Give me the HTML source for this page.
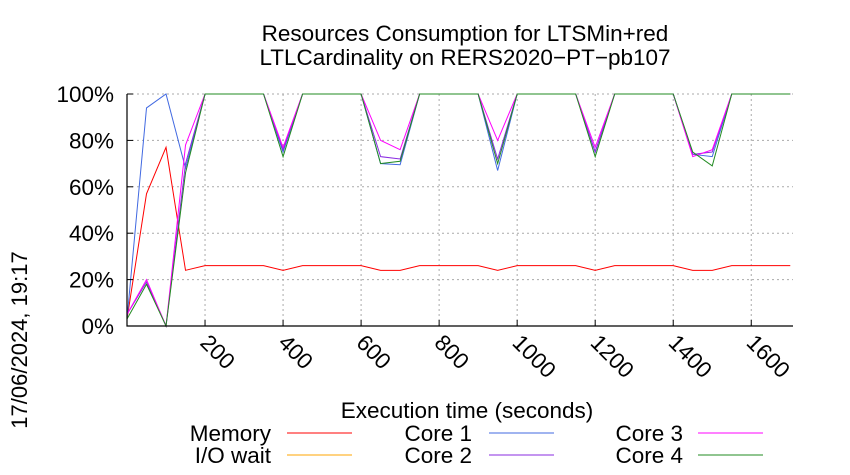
<!DOCTYPE html>
<html><head><meta charset="utf-8"><style>
body{margin:0;background:#fff}
svg{display:block;font-family:"Liberation Sans",sans-serif}
</style></head><body>
<svg id="c" width="850" height="475" viewBox="0 0 850 475">
<text x="465" y="41" font-size="22.5" text-anchor="middle">Resources Consumption for LTSMin+red</text>
<text x="465" y="65" font-size="22.5" text-anchor="middle">LTLCardinality on RERS2020−PT−pb107</text>
<text transform="translate(27,340) rotate(-90)" font-size="22" text-anchor="middle">17/06/2024, 19:17</text>
<text x="467" y="418" font-size="22.5" text-anchor="middle">Execution time (seconds)</text>
<g id="grid"></g><g id="series"></g><g id="axes"></g><g id="legend"></g>
</svg>
<script>
const times=[0,50,100,150,200,250,300,350,400,450,500,550,600,650,700,750,800,850,900,950,1000,1050,1100,1150,1200,1250,1300,1350,1400,1450,1500,1550,1600,1650,1700];
const memory=[3,57,77,24,26,26,26,26,24,26,26,26,26,24,24,26,26,26,26,24,26,26,26,26,24,26,26,26,26,24,24,26,26,26,26];
const ioWait=[0,0,0,0,0,0,0,0,0,0,0,0,0,0,0,0,0,0,0,0,0,0,0,0,0,0,0,0,0,0,0,0,0,0,0];
const core1=[3,94,100,68,100,100,100,100,75,100,100,100,100,70,69.5,100,100,100,100,67,100,100,100,100,75,100,100,100,100,74,73,100,100,100,100];
const core2=[5,19,0,70,100,100,100,100,76,100,100,100,100,73,72,100,100,100,100,72,100,100,100,100,75,100,100,100,100,74,75,100,100,100,100];
const core3=[5,20,0,78,100,100,100,100,77,100,100,100,100,80,76,100,100,100,100,80,100,100,100,100,77,100,100,100,100,73,76,100,100,100,100];
const core4=[3,18,0,66,100,100,100,100,73,100,100,100,100,70,71,100,100,100,100,70,100,100,100,100,73,100,100,100,100,75,69,100,100,100,100];
const yTicks=[0,20,40,60,80,100];
const xTicks=[200,400,600,800,1000,1200,1400,1600];
const NS="http://www.w3.org/2000/svg";
const X0=127,X1=793,Y0=326,Y1=94,TMAX=1707;
const xs=t=>X0+(X1-X0)*t/TMAX;
const ys=v=>Y0-(Y0-Y1)*v/100;
function mk(tag,attrs,parent){const e=document.createElementNS(NS,tag);for(const k in attrs)e.setAttribute(k,attrs[k]);parent.appendChild(e);return e;}
const grid=document.getElementById('grid'),axes=document.getElementById('axes'),ser=document.getElementById('series'),leg=document.getElementById('legend');
yTicks.forEach(v=>{
 const l=mk('line',{x1:X0,x2:X1,y1:ys(v),y2:ys(v),stroke:'#aaa','stroke-dasharray':'2,3','stroke-width':1},grid);
 
 
 const tk=mk('line',{x1:X0,x2:X0+6,y1:ys(v),y2:ys(v),stroke:'#000'},axes);
 
 
 const t=mk('text',{x:114,y:ys(v)+8,'font-size':22.5,'text-anchor':'end'},axes);
 t.textContent=v+'%';
 
 
});
xTicks.forEach(v=>{
 const l=mk('line',{x1:xs(v),x2:xs(v),y1:Y1,y2:Y0,stroke:'#aaa','stroke-dasharray':'2,3','stroke-width':1},grid);
 
 
 const tk=mk('line',{x1:xs(v),x2:xs(v),y1:Y0,y2:Y0-6,stroke:'#000'},axes);
 
 
 const t=mk('text',{transform:`translate(${xs(v)-6},${Y0+18}) rotate(45)`,'font-size':22.5},axes);
 t.textContent=v;
 
 
});
const ax=mk('path',{d:`M${X0},${Y1}V${Y0}H${X1}`,fill:'none',stroke:'#000','stroke-width':1.2},axes);


const series=[['Memory',memory,'#ff0000'],['I/O wait',ioWait,'#ffa500'],['Core 1',core1,'#4169e1'],['Core 2',core2,'#8a2be2'],['Core 3',core3,'#ff00ff'],['Core 4',core4,'#228b22']];
series.forEach(([name,vals,col])=>{
 const p=mk('polyline',{points:vals.map((v,i)=>xs(times[i])+','+ys(v)).join(' '),fill:'none',stroke:col,'stroke-width':1},ser);
 
 
});
const legPos=[[271,287,433],[271,287,455],[472,489,433],[472,489,455],[683,698,433],[683,698,455]];
series.forEach(([name,vals,col],i)=>{
 const [tx,lx,ly]=legPos[i];
 const g=mk('g',{},leg);
 
 
 const t=mk('text',{x:tx,y:ly+8,'font-size':22.5,'text-anchor':'end'},g);
 t.textContent=name;
 mk('line',{x1:lx,x2:lx+65,y1:ly,y2:ly,stroke:col,'stroke-width':1},g);
});
</script>
</body></html>
